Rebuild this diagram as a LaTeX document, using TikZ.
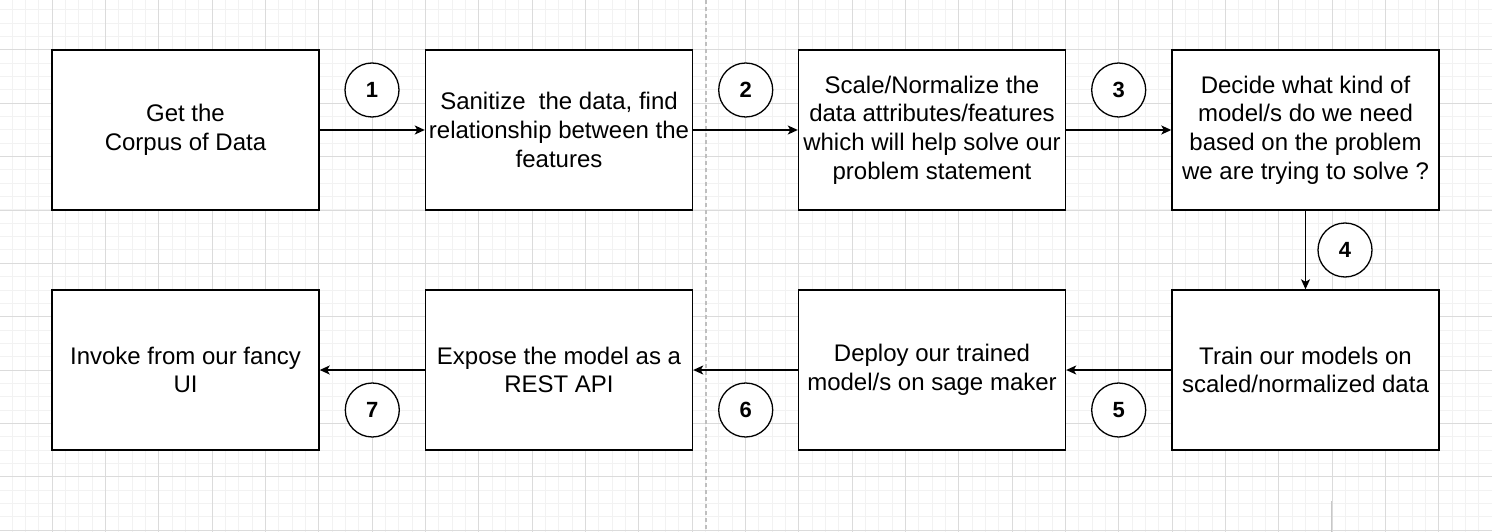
\documentclass[tikz,border=0pt]{standalone}
\usepackage{fontspec}
\setmainfont{Liberation Sans}
\usetikzlibrary{arrows.meta}

\begin{document}
\begin{tikzpicture}[x=1pt,y=-1pt,
	box/.style={draw=black,line width=1.4pt,fill=white,minimum width=267pt,minimum height=160pt,inner sep=0,align=center,font=\fontsize{24}{28.8}\selectfont},
	num/.style={draw=black,line width=1.3pt,fill=white,circle,minimum size=54pt,inner sep=0,font=\fontsize{22}{24}\selectfont\bfseries},
	flow/.style={line width=1.4pt,-{Stealth[length=10pt,width=9pt,inset=2.5pt]}},
	minorgrid/.style={line width=1pt,color=black!5},
	majorgrid/.style={line width=1pt,color=black!14}]
	\useasboundingbox (0,0) rectangle (1492,532);
	\fill[white] (0,0) rectangle (1492,532);
	\foreach \i in {0,...,112} \draw[minorgrid] (\i*13.3333-1.3333,0) -- (\i*13.3333-1.3333,532);
	\foreach \j in {0,...,40} \draw[minorgrid] (0,\j*13.3333-3.3333) -- (1492,\j*13.3333-3.3333);
	\foreach \i in {0,...,28} \draw[majorgrid] (\i*53.3333-1.3333,0) -- (\i*53.3333-1.3333,532);
	\foreach \j in {0,...,10} \draw[majorgrid] (0,\j*53.3333-3.3333) -- (1492,\j*53.3333-3.3333);
	\draw[line width=1.2pt,color=black!25,dash pattern=on 4pt off 3pt] (706,0) -- (706,532);
	\draw[line width=1.2pt,color=black!22] (1331.3,501) -- (1331.3,532);
	\node[box] (1) at (185.5,130) {Get the\\Corpus of Data};
	\node[box] (2) at (559,130) {Sanitize\ \ the data, find\\relationship between the\\features};
	\node[box] (3) at (932,130) {Scale/Normalize the\\data attributes/features\\which will help solve our\\problem statement};
	\node[box] (4) at (1305.5,130) {Decide what kind of\\model/s do we need\\based on the problem\\we are trying to solve ?};
	\node[box] (5) at (1305.5,370) {Train our models on\\scaled/normalized data};
	\node[box] (6) at (932,370) {Deploy our trained\\model/s on sage maker};
	\node[box] (7) at (559,370) {Expose the model as a\\REST API};
	\node[box] (8) at (185.5,370) {Invoke from our fancy\\UI};
	\node[num] (n1) at (372,90) {1};
	\node[num] (n2) at (745.7,90) {2};
	\node[num] (n3) at (1118.7,90) {3};
	\node[num] (n4) at (1345,250) {4};
	\node[num] (n5) at (1118.7,410) {5};
	\node[num] (n6) at (745.7,410) {6};
	\node[num] (n7) at (372.3,410) {7};
	\draw[flow] (1) -- (2);
	\draw[flow] (2) -- (3);
	\draw[flow] (3) -- (4);
	\draw[flow] (4) -- (5);
	\draw[flow] (5) -- (6);
	\draw[flow] (6) -- (7);
	\draw[flow] (7) -- (8);
\end{tikzpicture}
\end{document}
